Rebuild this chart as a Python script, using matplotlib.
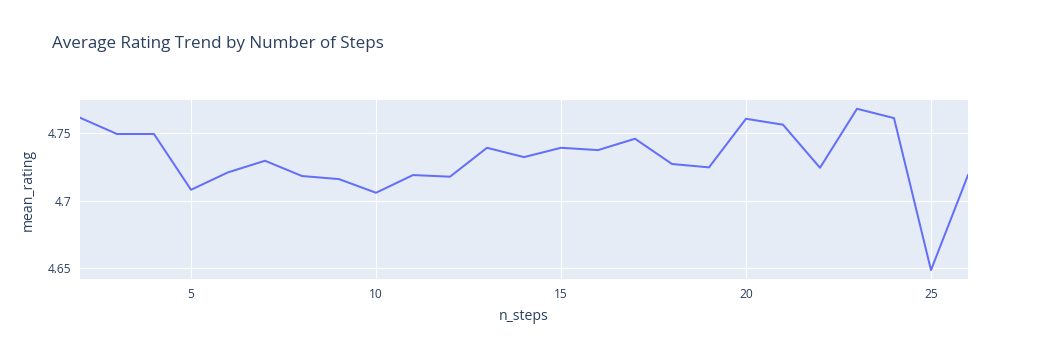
import numpy as np
import matplotlib.pyplot as plt
from matplotlib.ticker import FixedLocator, FixedFormatter

plt.rcParams["font.family"] = ["Open Sans", "DejaVu Sans"]

# Data
n_steps = list(range(2, 27))
mean_rating = [4.7616, 4.7495, 4.7495, 4.7082, 4.7211, 4.7297, 4.7184, 4.7161,
               4.7060, 4.7191, 4.7179, 4.7393, 4.7324, 4.7393, 4.7376, 4.7460,
               4.7273, 4.7248, 4.7608, 4.7564, 4.7245, 4.7682, 4.7613, 4.6487,
               4.7191]
x_ticks = [5, 10, 15, 20, 25]
y_ticks = [4.65, 4.7, 4.75]
y_tick_labels = ["4.65", "4.7", "4.75"]

text_color = "#2a3f5f"
px = 0.72  # points per pixel at dpi 100

fig = plt.figure(figsize=(10.48, 3.6), dpi=100)
ax = fig.add_axes([80 / 1048, (360 - 279.3) / 360, 888 / 1048, 179.3 / 360])
ax.set_facecolor("#e5ecf6")

ax.plot(n_steps, mean_rating, color="#636efa", linewidth=2 * px, zorder=3)

ax.set_xlim(2, 26)
ax.set_ylim(4.6419, 4.7747)
ax.xaxis.set_major_locator(FixedLocator(x_ticks))
ax.yaxis.set_major_locator(FixedLocator(y_ticks))
ax.yaxis.set_major_formatter(FixedFormatter(y_tick_labels))
ax.grid(True, color="white", linewidth=1.2 * px)
ax.set_axisbelow(True)
for s in ax.spines.values():
    s.set_visible(False)
ax.tick_params(length=0, labelsize=12 * px, labelcolor=text_color, pad=6)

ax.set_xlabel("n_steps", fontsize=14 * px, color=text_color, labelpad=6)
ax.set_ylabel("mean_rating", fontsize=14 * px, color=text_color, labelpad=9)

fig.text(52 / 1048, 1 - 44 / 360, "Average Rating Trend by Number of Steps",
         fontsize=17 * px, color=text_color, va="center", ha="left")

fig.savefig("out.png", dpi=100)
